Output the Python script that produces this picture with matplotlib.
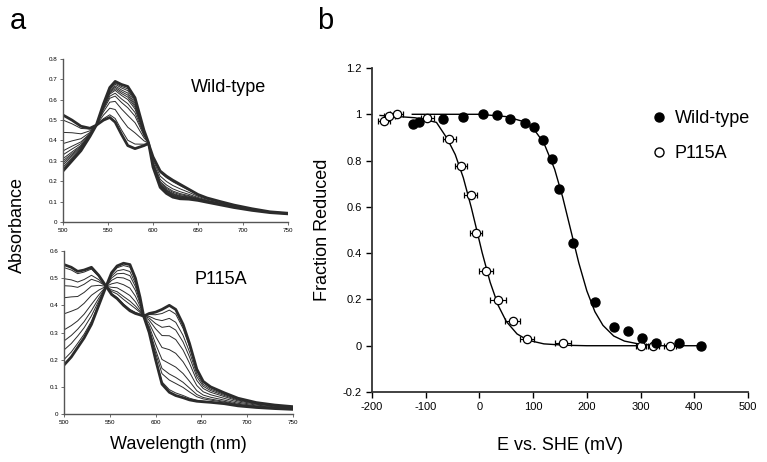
import numpy as np
import matplotlib.pyplot as plt
from matplotlib.lines import Line2D

plt.rcParams["font.family"] = "Liberation Sans"
plt.rcParams["axes.unicode_minus"] = False

# ---- panel a: spectra ----
wl_wt = [500, 510, 520, 530, 537, 545, 552, 558, 565, 572, 580, 590, 595, 600,
         608, 615, 622, 630, 640, 650, 660, 675, 690, 710, 730, 750]
wt_red = [0.25, 0.30, 0.35, 0.42, 0.475, 0.58, 0.66, 0.69, 0.675, 0.665, 0.61, 0.45,
          0.39, 0.27, 0.17, 0.14, 0.122, 0.114, 0.112, 0.106, 0.097, 0.084, 0.071,
          0.057, 0.046, 0.040]
wt_ox = [0.525, 0.50, 0.47, 0.46, 0.475, 0.50, 0.513, 0.49, 0.43, 0.375, 0.36, 0.375,
         0.385, 0.32, 0.25, 0.225, 0.205, 0.185, 0.16, 0.135, 0.118, 0.10, 0.083, 0.065,
         0.05, 0.043]
wt_frac = [0.91, 0.69, 0.49, 0.36, 0.29, 0.22, 0.18, 0.145, 0.11, 0.07, 0.04]

wl_mut = [500, 508, 515, 522, 530, 538, 546, 552, 558, 565, 572, 578, 583, 587, 593,
          600, 607, 615, 622, 630, 637, 645, 652, 660, 675, 690, 710, 730, 750]
mut_red = [0.18, 0.21, 0.245, 0.28, 0.33, 0.40, 0.47, 0.52, 0.545, 0.555, 0.55, 0.50,
           0.43, 0.36, 0.37, 0.375, 0.385, 0.40, 0.385, 0.33, 0.26, 0.165, 0.12, 0.10,
           0.078, 0.058, 0.042, 0.033, 0.027]
mut_ox = [0.55, 0.54, 0.525, 0.53, 0.54, 0.51, 0.47, 0.44, 0.425, 0.40, 0.38, 0.37,
          0.365, 0.36, 0.30, 0.20, 0.11, 0.08, 0.068, 0.06, 0.052, 0.047, 0.045, 0.043,
          0.038, 0.03, 0.024, 0.02, 0.017]
mut_frac = [0.97, 0.86, 0.79, 0.67, 0.51, 0.35, 0.24, 0.15, 0.055]

# ---- panel b: redox titration ----
wt_E = [-123, -112, -68, -31, 7, 33, 57, 85, 102, 119, 136, 148, 174, 215, 251, 276,
        302, 328, 372, 413]
wt_f = [0.958, 0.968, 0.98, 0.987, 1.0, 0.996, 0.98, 0.961, 0.944, 0.889, 0.805, 0.677,
        0.443, 0.188, 0.082, 0.064, 0.035, 0.013, 0.013, -0.001]

mut_E = [-178, -168, -154, -97, -56, -35, -16, -6, 12, 35, 62, 88, 156, 301, 324, 355]
mut_f = [0.972, 0.993, 1.0, 0.983, 0.893, 0.777, 0.651, 0.486, 0.323, 0.197, 0.108,
         0.029, 0.013, 0.0, 0.0, 0.0]
mut_err = [11, 10, 12, 12, 12, 11, 12, 11, 13, 15, 14, 13, 15, 10, 10, 11]

wt_fit_E = [-125, 0, 50, 80, 100, 120, 140, 155, 170, 185, 200, 215, 230, 250, 270,
            300, 340, 410]
wt_fit_f = [1.0, 1.0, 0.99, 0.97, 0.94, 0.876, 0.763, 0.642, 0.50, 0.358, 0.237, 0.147,
            0.088, 0.042, 0.02, 0.006, 0.0, 0.0]
mut_fit_E = [-185, -150, -120, -100, -80, -60, -45, -30, -15, -5, 5, 20, 35, 50, 70,
             90, 120, 160, 200, 300]
mut_fit_f = [0.995, 0.99, 0.985, 0.976, 0.965, 0.895, 0.826, 0.726, 0.596, 0.50, 0.403,
             0.274, 0.174, 0.105, 0.051, 0.024, 0.008, 0.002, 0.0, 0.0]

ink = "#2b2b2b"
fig = plt.figure(figsize=(7.67, 4.62), dpi=100)


def spectra(ax, wl, red, ox, frac, ymax, label):
    red = np.array(red)
    ox = np.array(ox)
    for f in frac:
        ax.plot(wl, red + f * (ox - red), color=ink, lw=0.7)
    ax.plot(wl, ox, color=ink, lw=2.0)
    ax.plot(wl, red, color=ink, lw=2.0)
    ax.set_xlim(500, 750)
    ax.set_ylim(0, ymax)
    ax.set_xticks(range(500, 751, 50))
    ax.set_yticks(np.arange(0, ymax + 0.01, 0.1))
    ax.set_yticklabels(["%g" % round(v, 1) for v in np.arange(0, ymax + 0.01, 0.1)])
    for s in ["top", "right"]:
        ax.spines[s].set_visible(False)
    for s in ["left", "bottom"]:
        ax.spines[s].set_color("#555555")
        ax.spines[s].set_linewidth(1.0)
    ax.tick_params(labelsize=4.5, length=2, width=0.6, color="#555555", pad=2)
    ax.text(0.57, 0.8, label, transform=ax.transAxes, fontsize=13)


ax1 = fig.add_axes([0.0821, 0.5195, 0.2934, 0.3528])
spectra(ax1, wl_wt, wt_red, wt_ox, wt_frac, 0.8, "Wild-type")
ax2 = fig.add_axes([0.0834, 0.1039, 0.2986, 0.3528])
spectra(ax2, wl_mut, mut_red, mut_ox, mut_frac, 0.6, "P115A")
ax2.set_xlabel("Wavelength (nm)", fontsize=13, labelpad=8)
fig.text(0.023, 0.513, "Absorbance", rotation=90, fontsize=13, va="center", ha="center")

ax3 = fig.add_axes([0.485, 0.1515, 0.4902, 0.7013])
ax3.plot(wt_fit_E, wt_fit_f, color="black", lw=1.0)
ax3.plot(mut_fit_E, mut_fit_f, color="black", lw=1.0)
ax3.errorbar(mut_E, mut_f, xerr=mut_err, fmt="o", mfc="white", mec="black",
             ecolor="black", ms=6, elinewidth=0.8, capsize=2, mew=0.9)
ax3.plot(wt_E, wt_f, "o", color="black", ms=6.5, zorder=3)
ax3.set_xlim(-200, 500)
ax3.set_ylim(-0.2, 1.2)
ax3.set_xticks(range(-200, 501, 100))
ax3.set_yticks([-0.2, 0, 0.2, 0.4, 0.6, 0.8, 1, 1.2])
ax3.set_yticklabels(["-0.2", "0", "0.2", "0.4", "0.6", "0.8", "1", "1.2"])
for s in ["top", "right"]:
    ax3.spines[s].set_visible(False)
for s in ["left", "bottom"]:
    ax3.spines[s].set_linewidth(1.3)
    ax3.spines[s].set_color("#333333")
ax3.tick_params(labelsize=8, length=4, width=1.0, direction="out")
ax3.set_xlabel("E vs. SHE (mV)", fontsize=13, labelpad=18)
ax3.set_ylabel("Fraction Reduced", fontsize=13, labelpad=8)
handles = [Line2D([], [], ls="none", marker="o", color="black", ms=6.5),
           Line2D([], [], ls="none", marker="o", mfc="white", mec="black", ms=6.5)]
ax3.legend(handles, ["Wild-type", "P115A"], loc="upper left",
           bbox_to_anchor=(0.69, 0.92), frameon=False, fontsize=13,
           handletextpad=0.3, labelspacing=1.0, handlelength=1.2)

fig.text(0.013, 0.955, "a", fontsize=21, va="center")
fig.text(0.414, 0.955, "b", fontsize=21, va="center")

fig.savefig("out.png", dpi=100)
